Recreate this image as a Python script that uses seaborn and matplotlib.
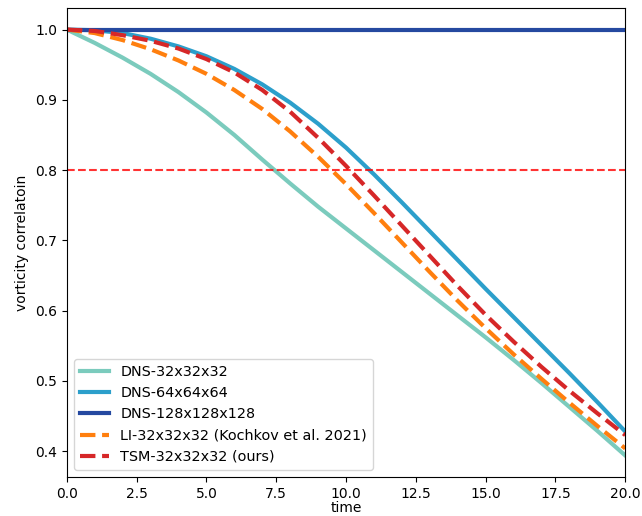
import matplotlib
matplotlib.use("Agg")
import matplotlib.pyplot as plt
import seaborn as sns

# vorticity correlation vs time
time = [0, 1, 2, 3, 4, 5, 6, 7, 8, 9, 10, 11, 12, 13, 14, 15, 16, 17, 18, 19, 20]

dns_32 = [1.0, 0.981, 0.960, 0.937, 0.911, 0.882, 0.850, 0.815, 0.781, 0.748, 0.717,
          0.686, 0.655, 0.624, 0.593, 0.562, 0.530, 0.497, 0.463, 0.429, 0.394]
dns_64 = [1.0, 0.999, 0.995, 0.987, 0.976, 0.962, 0.944, 0.922, 0.896, 0.866, 0.832,
          0.794, 0.754, 0.713, 0.672, 0.631, 0.591, 0.551, 0.511, 0.470, 0.428]
dns_128 = [1.0] * 21
li_32 = [1.0, 0.995, 0.985, 0.972, 0.956, 0.937, 0.914, 0.887, 0.855, 0.819, 0.780,
         0.739, 0.697, 0.655, 0.614, 0.575, 0.538, 0.503, 0.469, 0.436, 0.404]
tsm_32 = [1.0, 0.998, 0.992, 0.984, 0.973, 0.958, 0.939, 0.914, 0.883, 0.846, 0.806,
          0.764, 0.721, 0.678, 0.635, 0.594, 0.556, 0.520, 0.486, 0.454, 0.423]

labels = ["DNS-32x32x32", "DNS-64x64x64", "DNS-128x128x128",
          "LI-32x32x32 (Kochkov et al. 2021)", "TSM-32x32x32 (ours)"]
series = [dns_32, dns_64, dns_128, li_32, tsm_32]
colors = ["#7bcbbd", "#2c9fcb", "#2549a0", "#ff7f0e", "#d62728"]
styles = ["-", "-", "-", "--", "--"]

fig, ax = plt.subplots(figsize=(6.42, 5.16), dpi=100)
fig.subplots_adjust(left=0.104, right=0.974, top=0.984, bottom=0.076)

for vals, lab, c, ls in zip(series, labels, colors, styles):
    sns.lineplot(x=time, y=vals, ax=ax, color=c, linewidth=3, linestyle=ls, label=lab)

ax.axhline(0.8, color="red", linestyle="--", linewidth=1.5, alpha=0.8)

ax.set_xlim(0, 20)
ax.set_xlabel("time", labelpad=0.5)
ax.set_ylabel("vorticity correlatoin")
ax.legend(loc="lower left", fontsize=10.4)

fig.savefig("out.png", dpi=100)
